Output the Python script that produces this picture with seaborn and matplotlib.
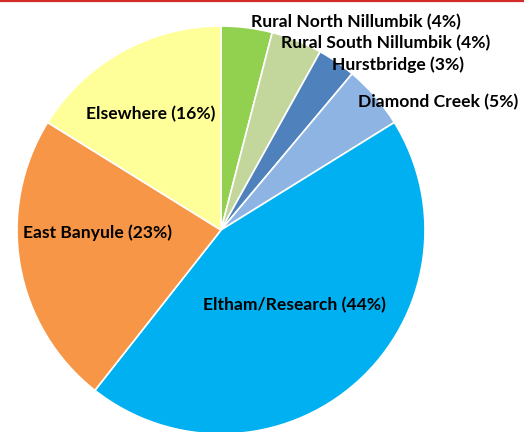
import matplotlib
matplotlib.use("Agg")
import matplotlib.pyplot as plt
from matplotlib.lines import Line2D
import seaborn as sns

# data, clockwise from 12 o'clock
regiones = ["Rural North Nillumbik", "Rural South Nillumbik", "Hurstbridge",
            "Diamond Creek", "Eltham/Research", "East Banyule", "Elsewhere"]
porcentajes = [4, 4, 3, 5, 44, 23, 16]
colores = ["#92D050", "#C3D69B", "#4F81BD", "#8EB4E3", "#00B0F0", "#F79646", "#FFFF99"]

# label centres in axes fraction (Excel moved the small ones outside)
pos_etiquetas = [(0.679, 0.949), (0.735, 0.900), (0.760, 0.850), (0.837, 0.764),
                 (0.562, 0.294), (0.187, 0.461), (0.288, 0.736)]

sns.set_theme(style="white")
plt.rcParams['font.family'] = ['Lato', 'DejaVu Sans']

fig = plt.figure(figsize=(5.24, 4.32), dpi=100)
ax = fig.add_axes([0, 0, 1, 1])

ax.pie(porcentajes, colors=sns.color_palette(colores), startangle=90, counterclock=False,
       wedgeprops=dict(edgecolor="white", linewidth=1.2))

# pie centre at pixel (221, 230), radius 204 px
r_px = 204.0
ax.set_xlim(-221 / r_px, (524 - 221) / r_px)
ax.set_ylim((230 - 432) / r_px, 230 / r_px)
ax.set_aspect("auto")
ax.axis("off")

for nombre, p, (x, y) in zip(regiones, porcentajes, pos_etiquetas):
    ax.text(x, y, f"{nombre} ({p}%)", transform=ax.transAxes, ha="center", va="center",
            fontsize=12.6, fontweight="bold", color="black")

# red rule along the top edge
fig.add_artist(Line2D([0, 1], [0.997, 0.997], transform=fig.transFigure,
                      color="#D42A2A", linewidth=1.6))

fig.savefig("out.png", dpi=100)
